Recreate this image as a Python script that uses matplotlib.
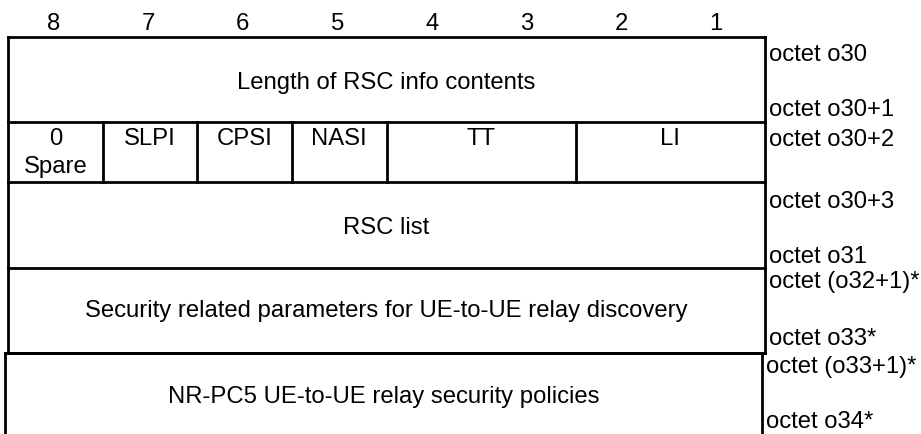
import matplotlib
matplotlib.use("Agg")
import matplotlib.pyplot as plt

# bit numbers shown over the columns
bits = [8, 7, 6, 5, 4, 3, 2, 1]

# each row: fields as (text, first bit, last bit)
row_fields = [
    [("Length of RSC info contents", 8, 1)],
    [("0\nSpare", 8, 8), ("SLPI", 7, 7), ("CPSI", 6, 6), ("NASI", 5, 5),
     ("TT", 4, 3), ("LI", 2, 1)],
    [("RSC list", 8, 1)],
    [("Security related parameters for UE-to-UE relay discovery", 8, 1)],
    [("NR-PC5 UE-to-UE relay security policies", 8, 1)],
]
row_octets = [
    ["octet o30", "octet o30+1"],
    ["octet o30+2"],
    ["octet o30+3", "octet o31"],
    ["octet (o32+1)*", "octet o33*"],
    ["octet (o33+1)*", "octet o34*"],
]

# layout (pixels)
W, H = 921, 434
left, right = 8, 765
col_w = (right - left) / 8.0
row_edges = [37, 122, 182, 268, 353, 440]
row_shift = [0, 0, 0, 0, -3]
top_aligned = [False, True, False, False, False]
label_top = [18, 18, 20, 14, 14]
label_bot = [12, 12, 11, 14, 12]
text_dy = [3, 0, 3, 1, 2]
line_h = 28
lw = 2.0
fs = 17.2

plt.rcParams["font.family"] = ["Liberation Sans", "DejaVu Sans"]
fig = plt.figure(figsize=(W / 100.0, H / 100.0), dpi=100)
ax = fig.add_axes([0, 0, 1, 1])
ax.set_xlim(0, W)
ax.set_ylim(H, 0)
ax.axis("off")

def bit_x(b, dx=0):
    return left + dx + (8 - b) * col_w

for b in bits:
    ax.text(bit_x(b) + col_w / 2 - 2, 24, str(b), ha="center", va="center", fontsize=fs)

for i, fields in enumerate(row_fields):
    top, bot = row_edges[i], row_edges[i + 1]
    dx = row_shift[i]
    x0, x1 = left + dx, right + dx
    # box outline (no bottom line for the last row, it runs off the page)
    ax.plot([x0, x1], [top, top], color="black", lw=lw, solid_capstyle="projecting")
    ax.plot([x0, x0], [top, bot], color="black", lw=lw, solid_capstyle="projecting")
    ax.plot([x1, x1], [top, bot], color="black", lw=lw, solid_capstyle="projecting")
    for text, b0, b1 in fields:
        fx0 = bit_x(b0, dx)
        fx1 = bit_x(b1, dx) + col_w
        if b0 != 8:
            ax.plot([fx0, fx0], [top, bot], color="black", lw=lw)
        cx = (fx0 + fx1) / 2
        if top_aligned[i]:
            for k, part in enumerate(text.split("\n")):
                ax.text(cx, top + 17 + k * line_h, part, ha="center", va="center", fontsize=fs)
        else:
            ax.text(cx, (top + min(bot, 438)) / 2 + text_dy[i], text,
                    ha="center", va="center", fontsize=fs)
    labels = row_octets[i]
    ax.text(x1 + 4, top + label_top[i], labels[0], ha="left", va="center", fontsize=fs)
    if len(labels) > 1:
        ax.text(x1 + 4, min(bot, H) - label_bot[i], labels[1], ha="left", va="center", fontsize=fs)

ax.plot([left, right], [row_edges[4], row_edges[4]], color="black", lw=lw)

fig.savefig("out.png", dpi=100)
